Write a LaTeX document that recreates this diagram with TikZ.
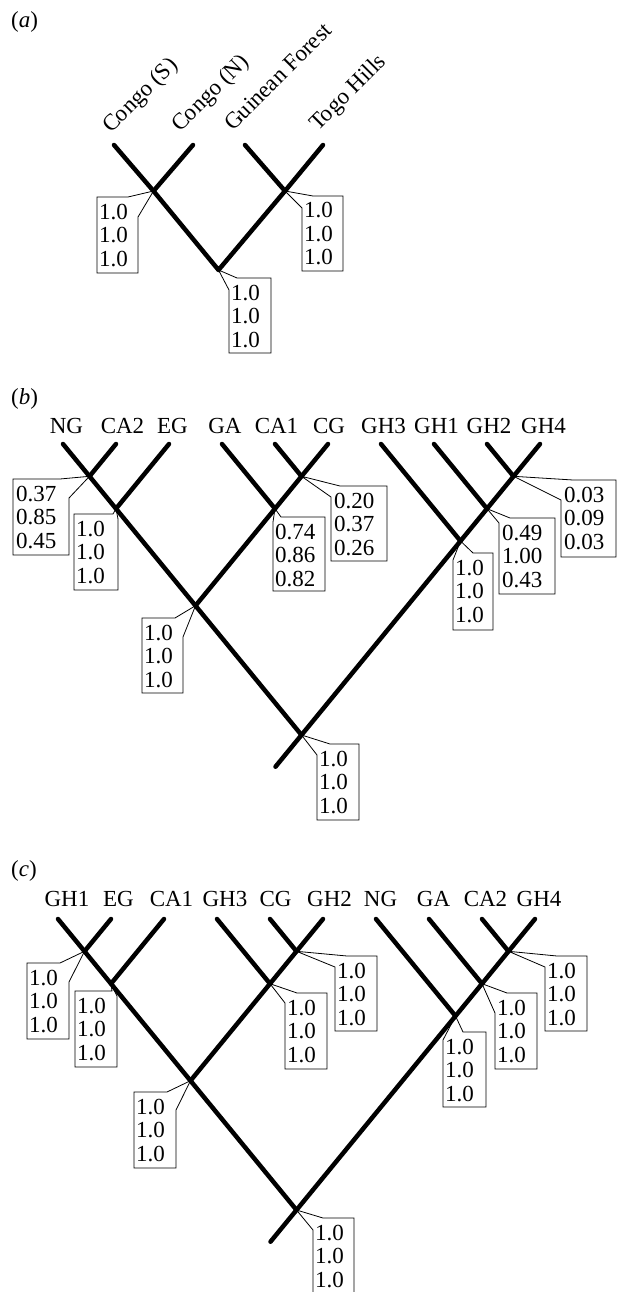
\documentclass[tikz,border=0pt]{standalone}
\usepackage{fontspec}
\setmainfont{Liberation Serif}
\newcommand\fs{\fontsize{23}{23.5}\selectfont}
\newcommand\vals[3]{\begin{tabular}[t]{@{}l@{}}#1\\#2\\#3\end{tabular}}
\tikzset{
  branch/.style={line width=4.5pt, line cap=round, line join=round},
  callout/.style={line width=0.8pt, line join=miter},
  lab/.style={anchor=base, inner sep=0pt, font=\fs},
  rlab/.style={anchor=base west, inner sep=0pt, font=\fs, rotate=45},
  val/.style={anchor=base west, inner sep=0pt, font=\fs},
  panel/.style={anchor=base west, inner sep=0pt, font=\fs},
}
\begin{document}
\begin{tikzpicture}[x=1pt,y=-1pt]
\useasboundingbox (0,0) rectangle (617,1292);

% ---------------- panel (a) ----------------
\node[panel] (pa) at (11,28) {(\textit{a})};
\coordinate (aS) at (114,145);
\coordinate (aN) at (193,145);
\coordinate (aG) at (245,145);
\coordinate (aT) at (323,145);
\coordinate (aL) at (153.5,191);
\coordinate (aR) at (285,191);
\coordinate (aRoot) at (218.5,270);

\node[rlab] (laS) at (111,134) {Congo (S)};
\node[rlab] (laN) at (180,133) {Congo (N)};
\node[rlab] (laG) at (233,132) {Guinean Forest};
\node[rlab] (laT) at (318,132) {Togo Hills};

\draw[callout] (97,197) -- (128,197) -- (aL) -- (138,217) -- (138,273) -- (97,273) -- cycle;
\node[val] (vaL) at (99,219) {\vals{1.0}{1.0}{1.0}};
\draw[callout] (302,208) -- (aR) -- (313,196) -- (343,196) -- (343,271) -- (302,271) -- cycle;
\node[val] (vaR) at (304,218) {\vals{1.0}{1.0}{1.0}};
\draw[callout] (229,290) -- (aRoot) -- (237,278) -- (271,278) -- (271,353) -- (229,353) -- cycle;
\node[val] (vaRoot) at (231,300) {\vals{1.0}{1.0}{1.0}};

\draw[branch] (aS) -- (aL) -- (aRoot) -- (aR) -- (aT);
\draw[branch] (aN) -- (aL);
\draw[branch] (aG) -- (aR);

% ---------------- panel (b) ----------------
\node[panel] (pb) at (11,404) {(\textit{b})};
\coordinate (bNG) at (63,444);
\coordinate (bCA2) at (116,444);
\coordinate (bEG) at (169,444);
\coordinate (bGA) at (222,444);
\coordinate (bCA1) at (275,444);
\coordinate (bCG) at (328,444);
\coordinate (bGH3) at (381,444);
\coordinate (bGH1) at (434,444);
\coordinate (bGH2) at (487,444);
\coordinate (bGH4) at (540,444);
\coordinate (b1) at (89.5,476.3);
\coordinate (b2) at (116,508.7);
\coordinate (b3) at (301.5,476.3);
\coordinate (b4) at (275,508.7);
\coordinate (b5) at (195.5,605.7);
\coordinate (b6) at (513.5,476.3);
\coordinate (b7) at (487,508.7);
\coordinate (b8) at (460.5,541);
\coordinate (bR) at (301.5,735);
\coordinate (bS) at (275.5,766.7);

\node[lab] (lbNG) at (66.5,433) {NG};
\node[lab] (lbCA2) at (122.5,433) {CA2};
\node[lab] (lbEG) at (172.5,433) {EG};
\node[lab] (lbGA) at (225,433) {GA};
\node[lab] (lbCA1) at (276.5,433) {CA1};
\node[lab] (lbCG) at (329,433) {CG};
\node[lab] (lbGH3) at (383.5,433) {GH3};
\node[lab] (lbGH1) at (436.5,433) {GH1};
\node[lab] (lbGH2) at (489,433) {GH2};
\node[lab] (lbGH4) at (543.5,433) {GH4};

\draw[callout] (13,479) -- (60,479) -- (b1) -- (69,498) -- (69,555) -- (13,555) -- cycle;
\node[val] (vb1) at (16,501) {\vals{0.37}{0.85}{0.45}};
\draw[callout] (74,514) -- (113,514) -- (b2) -- (118,519) -- (118,590) -- (74,590) -- cycle;
\node[val] (vb2) at (76,536) {\vals{1.0}{1.0}{1.0}};
\draw[callout] (273,522) -- (b4) -- (281,517) -- (325,517) -- (325,591) -- (273,591) -- cycle;
\node[val] (vb4) at (275,539) {\vals{0.74}{0.86}{0.82}};
\draw[callout] (331,497) -- (b3) -- (340,486) -- (387,486) -- (387,561) -- (331,561) -- cycle;
\node[val] (vb3) at (334,508) {\vals{0.20}{0.37}{0.26}};
\draw[callout] (142,618) -- (175,618) -- (b5) -- (183,637) -- (183,693) -- (142,693) -- cycle;
\node[val] (vb5) at (144,640) {\vals{1.0}{1.0}{1.0}};
\draw[callout] (453,560) -- (b8) -- (473,553) -- (493,553) -- (493,630) -- (453,630) -- cycle;
\node[val] (vb8) at (455,575) {\vals{1.0}{1.0}{1.0}};
\draw[callout] (499,523) -- (b7) -- (510,518) -- (555,518) -- (555,594) -- (499,594) -- cycle;
\node[val] (vb7) at (502,540) {\vals{0.49}{1.00}{0.43}};
\draw[callout] (561,500) -- (b6) -- (573,480) -- (616,480) -- (616,557) -- (561,557) -- cycle;
\node[val] (vb6) at (564,502) {\vals{0.03}{0.09}{0.03}};
\draw[callout] (317,755) -- (bR) -- (330,744) -- (359,744) -- (359,820) -- (317,820) -- cycle;
\node[val] (vbR) at (319,766) {\vals{1.0}{1.0}{1.0}};

\draw[branch] (bNG) -- (b1) -- (b2) -- (b5) -- (bR);
\draw[branch] (bCA2) -- (b1);
\draw[branch] (bEG) -- (b2);
\draw[branch] (bCG) -- (b3) -- (b4) -- (b5);
\draw[branch] (bCA1) -- (b3);
\draw[branch] (bGA) -- (b4);
\draw[branch] (bGH4) -- (b6) -- (b7) -- (b8) -- (bR) -- (bS);
\draw[branch] (bGH2) -- (b6);
\draw[branch] (bGH1) -- (b7);
\draw[branch] (bGH3) -- (b8);

% ---------------- panel (c) ----------------
\node[panel] (pc) at (11,876) {(\textit{c})};
\coordinate (cGH1) at (58,919);
\coordinate (cEG) at (111,919);
\coordinate (cCA1) at (164,919);
\coordinate (cGH3) at (217,919);
\coordinate (cCG) at (270,919);
\coordinate (cGH2) at (323,919);
\coordinate (cNG) at (376,919);
\coordinate (cGA) at (429,919);
\coordinate (cCA2) at (482,919);
\coordinate (cGH4) at (535,919);
\coordinate (c1) at (84.5,951.3);
\coordinate (c2) at (111,983.7);
\coordinate (c3) at (296.5,951.3);
\coordinate (c4) at (270,983.7);
\coordinate (c5) at (190.5,1080.7);
\coordinate (c6) at (508.5,951.3);
\coordinate (c7) at (482,983.7);
\coordinate (c8) at (455.5,1016);
\coordinate (cR) at (296.5,1210);
\coordinate (cS) at (270.5,1241.7);

\node[lab] (lcGH1) at (67,906) {GH1};
\node[lab] (lcEG) at (118.5,906) {EG};
\node[lab] (lcCA1) at (171.5,906) {CA1};
\node[lab] (lcGH3) at (225,906) {GH3};
\node[lab] (lcCG) at (275.5,906) {CG};
\node[lab] (lcGH2) at (329.5,906) {GH2};
\node[lab] (lcNG) at (380.5,906) {NG};
\node[lab] (lcGA) at (433.5,906) {GA};
\node[lab] (lcCA2) at (485.5,906) {CA2};
\node[lab] (lcGH4) at (539,906) {GH4};

\draw[callout] (27,963) -- (60,963) -- (c1) -- (69,982) -- (69,1039) -- (27,1039) -- cycle;
\node[val] (vc1) at (29,985) {\vals{1.0}{1.0}{1.0}};
\draw[callout] (75,991) -- (112,991) -- (c2) -- (117,996) -- (117,1067) -- (75,1067) -- cycle;
\node[val] (vc2) at (77,1013) {\vals{1.0}{1.0}{1.0}};
\draw[callout] (134,1092) -- (167,1092) -- (c5) -- (176,1110) -- (176,1168) -- (134,1168) -- cycle;
\node[val] (vc5) at (136,1114) {\vals{1.0}{1.0}{1.0}};
\draw[callout] (285,1003) -- (c4) -- (297,993) -- (327,993) -- (327,1069) -- (285,1069) -- cycle;
\node[val] (vc4) at (287,1015) {\vals{1.0}{1.0}{1.0}};
\draw[callout] (335,967) -- (c3) -- (347,956) -- (377,956) -- (377,1031) -- (335,1031) -- cycle;
\node[val] (vc3) at (337,978) {\vals{1.0}{1.0}{1.0}};
\draw[callout] (443,1040) -- (c8) -- (463,1032) -- (486,1032) -- (486,1107) -- (443,1107) -- cycle;
\node[val] (vc8) at (445,1054) {\vals{1.0}{1.0}{1.0}};
\draw[callout] (495,1013) -- (c7) -- (507,993) -- (537,993) -- (537,1069) -- (495,1069) -- cycle;
\node[val] (vc7) at (497,1015) {\vals{1.0}{1.0}{1.0}};
\draw[callout] (545,967) -- (c6) -- (557,956) -- (587,956) -- (587,1031) -- (545,1031) -- cycle;
\node[val] (vc6) at (547,978) {\vals{1.0}{1.0}{1.0}};
\draw[callout] (313,1300) -- (313,1230) -- (cR) -- (323,1218) -- (354,1218) -- (354,1300);
\node[val] (vcR) at (315,1240) {\vals{1.0}{1.0}{1.0}};

\draw[branch] (cGH1) -- (c1) -- (c2) -- (c5) -- (cR);
\draw[branch] (cEG) -- (c1);
\draw[branch] (cCA1) -- (c2);
\draw[branch] (cGH2) -- (c3) -- (c4) -- (c5);
\draw[branch] (cCG) -- (c3);
\draw[branch] (cGH3) -- (c4);
\draw[branch] (cGH4) -- (c6) -- (c7) -- (c8) -- (cR) -- (cS);
\draw[branch] (cCA2) -- (c6);
\draw[branch] (cGA) -- (c7);
\draw[branch] (cNG) -- (c8);
\end{tikzpicture}
\end{document}
